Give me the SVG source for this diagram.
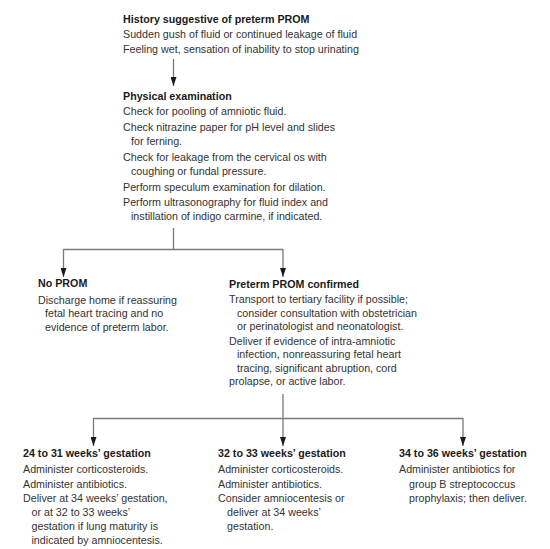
<svg xmlns="http://www.w3.org/2000/svg" width="550" height="549" viewBox="0 0 550 549">
<style>
text{font-family:"Liberation Sans",Arial,sans-serif;font-size:10.7px;fill:#333}
.h{font-weight:bold;fill:#1a1a1a}
.ln{fill:none;stroke:#7a7a7a;stroke-width:1.3}
.ar{marker-end:url(#ah)}
</style>
<defs>
<marker id="ah" viewBox="0 0 9 6" refX="9" refY="3" markerWidth="9" markerHeight="6" markerUnits="userSpaceOnUse" orient="auto">
<path d="M0,0 L9,3 L0,6 z" fill="#1a1a1a"/>
</marker>
</defs>
<rect width="550" height="549" fill="#fff"/>
<g id="connectors">
<path class="ln ar" d="M173.5,59 V86"/>
<path class="ln" d="M173.5,228 V249.5 M63.5,249.5 H283"/>
<path class="ln ar" d="M63.5,249 V277"/>
<path class="ln ar" d="M283,249 V277"/>
<path class="ln ar" d="M283,394 V446"/>
<path class="ln" d="M93.5,418.5 H463"/>
<path class="ln ar" d="M93.5,418 V446"/>
<path class="ln ar" d="M463,418 V446"/>
</g>
<g id="history">
<text class="h" x="123" y="23">History suggestive of preterm PROM</text>
<text x="123" y="38">Sudden gush of fluid or continued leakage of fluid</text>
<text x="123" y="53">Feeling wet, sensation of inability to stop urinating</text>
</g>
<g id="physical">
<text class="h" x="123" y="100">Physical examination</text>
<text x="123" y="115">Check for pooling of amniotic fluid.</text>
<text x="123" y="131">Check nitrazine paper for pH level and slides</text>
<text x="131" y="145">for ferning.</text>
<text x="123" y="161">Check for leakage from the cervical os with</text>
<text x="131" y="175">coughing or fundal pressure.</text>
<text x="123" y="191">Perform speculum examination for dilation.</text>
<text x="123" y="205.5">Perform ultrasonography for fluid index and</text>
<text x="131" y="220">instillation of indigo carmine, if indicated.</text>
</g>
<g id="noprom">
<text class="h" x="38" y="287">No PROM</text>
<text x="38" y="303.5">Discharge home if reassuring</text>
<text x="45" y="317">fetal heart tracing and no</text>
<text x="45" y="330.5">evidence of preterm labor.</text>
</g>
<g id="confirmed">
<text class="h" x="229" y="287.5">Preterm PROM confirmed</text>
<text x="229" y="303">Transport to tertiary facility if possible;</text>
<text x="237" y="316.5">consider consultation with obstetrician</text>
<text x="237" y="330">or perinatologist and neonatologist.</text>
<text x="229" y="345">Deliver if evidence of intra-amniotic</text>
<text x="237" y="358">infection, nonreassuring fetal heart</text>
<text x="237" y="371.5">tracing, significant abruption, cord</text>
<text x="229" y="385">prolapse, or active labor.</text>
</g>
<g id="w24">
<text class="h" x="23" y="457">24 to 31 weeks’ gestation</text>
<text x="23" y="473">Administer corticosteroids.</text>
<text x="23" y="487.5">Administer antibiotics.</text>
<text x="23" y="502">Deliver at 34 weeks’ gestation,</text>
<text x="31.5" y="515.5">or at 32 to 33 weeks’</text>
<text x="31.5" y="529.5">gestation if lung maturity is</text>
<text x="31.5" y="543.5">indicated by amniocentesis.</text>
</g>
<g id="w32">
<text class="h" x="218" y="457">32 to 33 weeks’ gestation</text>
<text x="218" y="473">Administer corticosteroids.</text>
<text x="218" y="487.5">Administer antibiotics.</text>
<text x="218" y="502">Consider amniocentesis or</text>
<text x="227" y="515.5">deliver at 34 weeks’</text>
<text x="227" y="529.5">gestation.</text>
</g>
<g id="w34">
<text class="h" x="399" y="457">34 to 36 weeks’ gestation</text>
<text x="399" y="473">Administer antibiotics for</text>
<text x="409" y="487.5">group B streptococcus</text>
<text x="409" y="502">prophylaxis; then deliver.</text>
</g>
</svg>
